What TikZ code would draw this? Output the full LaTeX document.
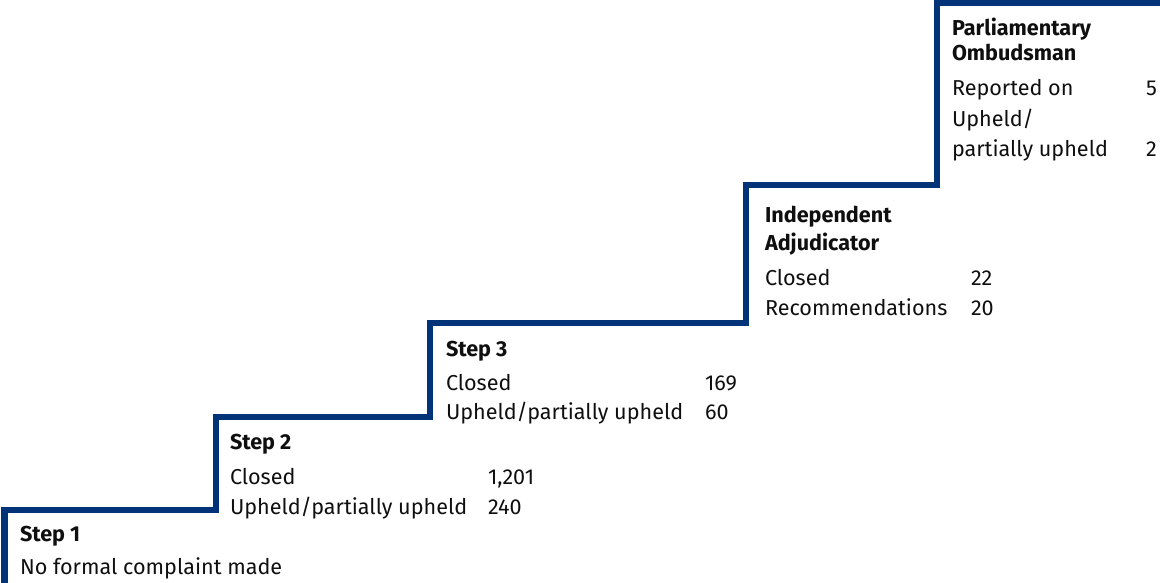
\documentclass[tikz,border=0pt]{standalone}
\usepackage{fontspec}
\setmainfont{Fira Sans}
\definecolor{stepnavy}{RGB}{0,51,120}
\definecolor{txt}{RGB}{15,15,15}
\begin{document}
\begin{tikzpicture}[x=1pt,y=1pt,
  lbl/.style={anchor=base west,inner sep=0pt,outer sep=0pt,text=txt,font=\fontsize{21.6}{26}\selectfont},
  head/.style={lbl,font=\fontsize{21.6}{26}\selectfont\bfseries},
  stairline/.style={draw=stepnavy,line width=6.5pt,line join=miter,line cap=butt}]
\useasboundingbox (0,0) rectangle (1160,583);
% staircase
\draw[stairline] (4.5,-6) -- (4.5,73) -- (216,73) -- (216,166) -- (430,166) -- (430,260)
  -- (746,260) -- (746,398) -- (937,398) -- (937,580.5) -- (1166,580.5);
% Step 1
\node[head] (s1h) at (20,41) {Step 1};
\node[lbl] (s1a) at (20,8) {No formal complaint made};
% Step 2
\node[head] (s2h) at (230,133) {Step 2};
\node[lbl] (s2a) at (230,98) {Closed};
\node[lbl] (s2an) at (488,98) {1,201};
\node[lbl] (s2b) at (230,68) {Upheld/partially upheld};
\node[lbl] (s2bn) at (488,68) {240};
% Step 3
\node[head] (s3h) at (446,226) {Step 3};
\node[lbl] (s3a) at (446,192) {Closed};
\node[lbl] (s3an) at (705,192) {169};
\node[lbl] (s3b) at (446,163) {Upheld/partially upheld};
\node[lbl] (s3bn) at (705,163) {60};
% Independent Adjudicator
\node[head] (iah1) at (765,360.5) {Independent};
\node[head] (iah2) at (765,332) {Adjudicator};
\node[lbl] (iaa) at (765,297) {Closed};
\node[lbl] (iaan) at (971,297) {22};
\node[lbl] (iab) at (765,267) {Recommendations};
\node[lbl] (iabn) at (971,267) {20};
% Parliamentary Ombudsman
\node[head] (poh1) at (952,547) {Parliamentary};
\node[head] (poh2) at (952,522) {Ombudsman};
\node[lbl] (poa) at (952,487) {Reported on};
\node[lbl] (poan) at (1146,487) {5};
\node[lbl] (pob1) at (952,456.5) {Upheld/};
\node[lbl] (pob2) at (952,426.5) {partially upheld};
\node[lbl] (pobn) at (1146,426.5) {2};
\end{tikzpicture}
\end{document}
